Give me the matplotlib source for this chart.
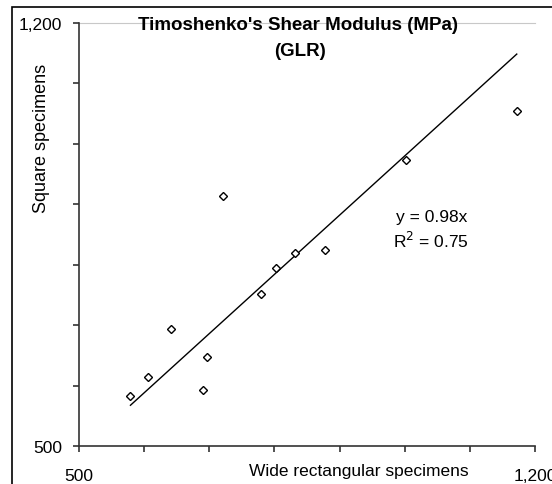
import matplotlib
matplotlib.use("Agg")
import matplotlib.pyplot as plt
from matplotlib.ticker import FuncFormatter, MultipleLocator
from matplotlib.patches import Rectangle
import numpy as np

plt.rcParams['font.family'] = ['Liberation Sans', 'DejaVu Sans']

# Data (MPa)
wide_rect = [579, 606, 641, 691, 697, 721, 780, 802, 832, 877, 1002, 1172]
square = [582, 615, 694, 592, 647, 914, 752, 795, 819, 824, 973, 1054]
slope = 0.98
r2 = 0.75

title_lines = ["Timoshenko's Shear Modulus (MPa)", "(GLR)"]
xlabel = "Wide rectangular specimens"
ylabel = "Square specimens"

W, H = 552, 485
fig = plt.figure(figsize=(W / 100, H / 100), dpi=100)
ax = fig.add_axes([79 / W, 1 - 447 / H, (535 - 79) / W, (447 - 24) / H])

# outer frame
fig.patches.append(Rectangle((12 / W, -0.1), 1.2, 1 - 8 / H + 0.1, transform=fig.transFigure,
                             fill=False, edgecolor='black', linewidth=1.2, zorder=0))

ax.plot(wide_rect, square, linestyle='none', marker='D', markersize=4.2,
        markerfacecolor='white', markeredgecolor='black', markeredgewidth=1.0, zorder=3)

xs = np.array([min(wide_rect), max(wide_rect)])
ax.plot(xs, slope * xs, color='black', linewidth=1.0, zorder=2)

ax.set_xlim(500, 1200)
ax.set_ylim(500, 1200)
ax.xaxis.set_major_locator(MultipleLocator(100))
ax.yaxis.set_major_locator(MultipleLocator(100))
fmt = FuncFormatter(lambda v, p: (f"{int(round(v)):,}" if round(v) in (500, 1200) else ""))
ax.xaxis.set_major_formatter(fmt)
ax.yaxis.set_major_formatter(fmt)

for s in ['top', 'right']:
    ax.spines[s].set_visible(False)
for s in ['left', 'bottom']:
    ax.spines[s].set_linewidth(1.2)
    ax.spines[s].set_color('#333333')
ax.axhline(1200, color='#c8c8c8', linewidth=0.8, zorder=1, clip_on=False)

ax.tick_params(axis='x', direction='out', length=4, width=1.2, pad=11.5, labelsize=12.5, color='#333333')
ax.tick_params(axis='y', direction='out', length=4, width=1.2, pad=8, labelsize=12.5, color='#333333')

fig.text(298 / W, 1 - 25 / H, title_lines[0], ha='center', va='center', fontsize=13.5, fontweight='bold')
fig.text(300 / W, 1 - 51 / H, title_lines[1], ha='center', va='center', fontsize=13.5, fontweight='bold')
fig.text(359 / W, 1 - 476 / H, xlabel, ha='center', va='baseline', fontsize=12.5)
fig.text(42 / W, 1 - 138 / H, ylabel, ha='center', va='center', fontsize=13, rotation=90)

fig.text(432 / W, 1 - 222 / H, f"y = {slope:.2f}x", ha='center', va='baseline', fontsize=12.5)
fig.text(431 / W, 1 - 248 / H, f"R$^2$ = {r2:.2f}", ha='center', va='baseline', fontsize=12.5)

fig.savefig("out.png", dpi=100)
